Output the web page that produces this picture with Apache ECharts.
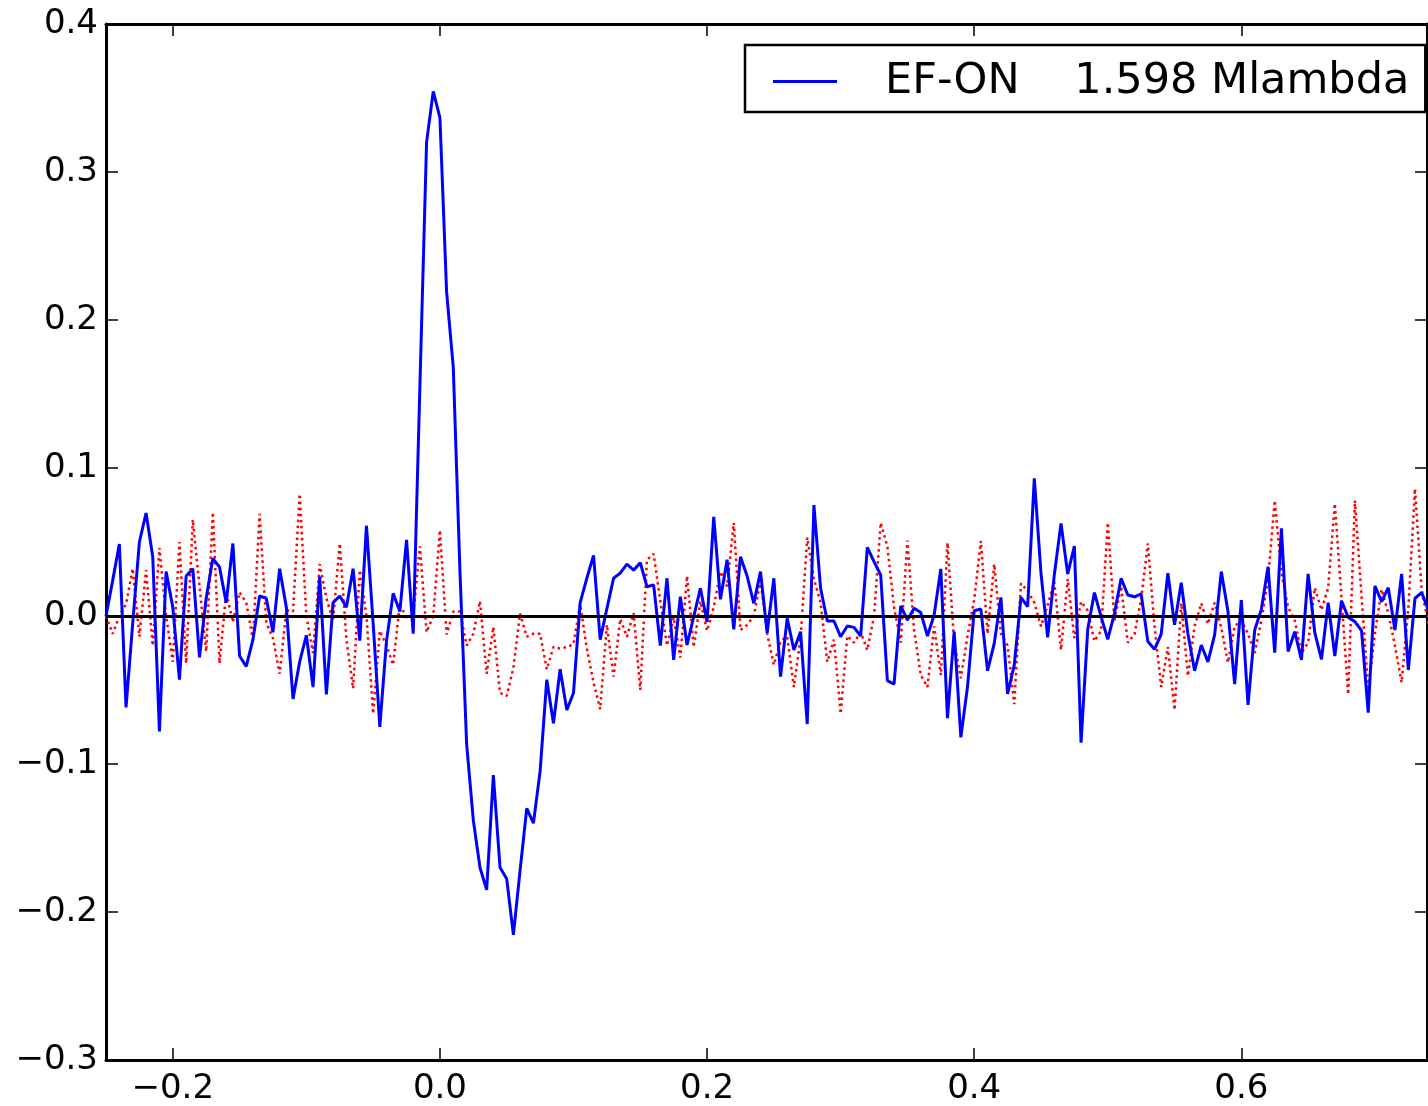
<!DOCTYPE html>
<html>
<head>
<meta charset="utf-8">
<title>EF-ON</title>
<script src="https://cdn.jsdelivr.net/npm/echarts@6/dist/echarts.min.js"></script>
<style>
  html, body { margin: 0; padding: 0; background: #fff; }
  #main { width: 1428px; height: 1106px; }
</style>
</head>
<body>
<div id="main"></div>
<script>
// sample positions: start and step on the x axis
var xStart = -0.25;
var xStep = 0.005;

// blue curve (EF-ON)
var blueValues = [
  0.000, 0.024, 0.0486, -0.0617, -0.005, 0.050, 0.0696, 0.040, -0.078, 0.030,
  0.006, -0.043, 0.027, 0.032, -0.028, 0.012, 0.039, 0.033, 0.009, 0.049,
  -0.027, -0.034, -0.016, 0.0135, 0.012, -0.011, 0.032, 0.006, -0.056, -0.031,
  -0.013, -0.048, 0.0266, -0.053, 0.009, 0.0135, 0.006, 0.032, -0.0167, 0.061,
  -0.005, -0.075, -0.017, 0.0153, 0.003, 0.0514, -0.012, 0.155, 0.320, 0.3545,
  0.3367, 0.219, 0.168, 0.030, -0.0865, -0.138, -0.170, -0.185, -0.1075, -0.170,
  -0.1776, -0.2155, -0.172, -0.130, -0.140, -0.105, -0.043, -0.0725, -0.036, -0.0635,
  -0.052, 0.009, 0.0255, 0.041, -0.016, 0.005, 0.0255, 0.029, 0.035, 0.031,
  0.036, 0.0198, 0.021, -0.020, 0.0255, -0.0297, 0.013, -0.0196, -0.0005, 0.0187,
  -0.004, 0.067, 0.0113, 0.038, -0.009, 0.040, 0.027, 0.0086, 0.030, -0.0113,
  0.0255, -0.041, -0.0016, -0.023, -0.0106, -0.073, 0.075, 0.0187, -0.0034, -0.0034,
  -0.014, -0.0068, -0.0077, -0.0135, 0.0464, 0.0367, 0.0277, -0.0437, -0.046, 0.0068,
  -0.0027, 0.0052, 0.0023, -0.0135, 0.0007, 0.0318, -0.069, -0.0106, -0.082, -0.0477,
  0.0036, 0.0047, -0.037, -0.0185, 0.0126, -0.0527, -0.033, 0.0126, 0.0063, 0.093,
  0.029, -0.0144, 0.028, 0.0626, 0.0284, 0.0473, -0.0856, -0.009, 0.0158, -0.0004,
  -0.0158, 0.0018, 0.0255, 0.0142, 0.013, 0.0149, -0.0173, -0.0225, -0.0122, 0.029,
  -0.006, 0.0225, -0.012, -0.037, -0.0196, -0.031, -0.0128, 0.030, 0.003, -0.046,
  0.0108, -0.060, -0.0095, 0.0045, 0.0333, -0.0248, 0.0593, -0.024, -0.0106, -0.0297,
  0.0284, -0.0113, -0.0293, 0.009, -0.027, 0.0103, -0.0009, -0.0038, -0.0099, -0.0653,
  0.0203, 0.0097, 0.0191, -0.0095, 0.0284, -0.0365, 0.012, 0.0158, 0.004
];

// red dotted curve
var redValues = [
  0.000, -0.012, 0.000, 0.008, 0.032, -0.014, 0.031, -0.020, 0.046, 0.000,
  -0.031, 0.050, -0.032, 0.065, 0.020, -0.024, 0.070, -0.032, 0.016, -0.004,
  0.016, 0.009, -0.016, 0.069, -0.0045, -0.015, -0.039, 0.004, 0.003, 0.0824,
  0.000, -0.025, 0.035, 0.012, -0.003, 0.049, -0.016, -0.049, 0.031, 0.000,
  -0.066, -0.010, -0.020, -0.033, 0.008, -0.001, 0.000, 0.047, -0.011, 0.000,
  0.058, -0.0125, 0.003, 0.003, -0.020, -0.012, 0.010, -0.039, -0.0075, -0.052,
  -0.054, -0.035, 0.0016, -0.014, -0.012, -0.012, -0.036, -0.021, -0.022, -0.021,
  -0.019, 0.008, -0.022, -0.045, -0.063, -0.006, -0.041, -0.002, -0.014, 0.002,
  -0.050, 0.038, 0.042, 0.010, -0.020, -0.001, -0.028, 0.027, -0.021, 0.010,
  -0.010, 0.006, 0.030, 0.020, 0.063, -0.0095, -0.006, 0.000, 0.024, -0.012,
  -0.033, -0.017, -0.014, -0.048, -0.015, 0.053, 0.025, 0.009, -0.031, -0.016,
  -0.066, -0.0135, -0.018, -0.011, -0.023, 0.000, 0.063, 0.047, 0.006, -0.018,
  0.051, -0.0095, -0.040, -0.048, -0.007, -0.040, 0.0495, -0.018, -0.042, -0.0135,
  0.011, 0.0507, -0.012, 0.035, -0.012, -0.020, -0.0595, 0.022, 0.017, 0.009,
  -0.007, 0.0074, 0.023, -0.023, 0.025, -0.015, 0.0097, 0.0036, -0.017, -0.010,
  0.063, -0.003, 0.020, -0.018, -0.0124, 0.0115, 0.049, -0.007, -0.048, -0.021,
  -0.0635, 0.0086, -0.0405, -0.007, 0.0086, -0.0054, 0.009, -0.008, -0.0315, -0.007,
  -0.003, -0.012, -0.025, -0.003, 0.025, 0.078, 0.029, 0.006, -0.003, -0.025,
  -0.018, 0.019, 0.004, 0.019, 0.076, 0.012, -0.053, 0.078, 0.0135, -0.050,
  -0.012, 0.018, 0.002, -0.020, -0.045, 0.005, 0.086, 0.0176, -0.005
];

var xTicks = [-0.2, 0.0, 0.2, 0.4, 0.6];
var legendName = 'EF-ON    1.598 Mlambda';

function pairs(values) {
  var out = [];
  for (var i = 0; i < values.length; i++) {
    out.push([+(xStart + i * xStep).toFixed(4), values[i]]);
  }
  return out;
}

// matplotlib style minus sign
function tickText(v) {
  var s = Math.abs(v) < 1e-9 ? '0.0' : v.toFixed(1);
  return s.replace('-', '\u2212');
}

var frame = { show: true, onZero: false, lineStyle: { color: '#000', width: 3 } };
var tickIn = { show: true, inside: true, length: 12, lineStyle: { color: '#000', width: 1.5 } };
var labelFont = { fontFamily: 'DejaVu Sans', fontSize: 34, color: '#000' };

var myChart = echarts.init(document.getElementById('main'), null, { renderer: 'canvas' });

var option = {
  backgroundColor: '#fff',
  animation: false,
  grid: { left: 106, right: 1, top: 24, bottom: 45 },
  legend: {
    data: [legendName],
    left: 745,
    top: 45,
    orient: 'horizontal',
    backgroundColor: '#fff',
    borderColor: '#000',
    borderWidth: 2.5,
    borderRadius: 0,
    padding: [11, 16, 5, 28],
    itemWidth: 64,
    itemHeight: 3,
    icon: 'rect',
    textStyle: {
      fontFamily: 'DejaVu Sans',
      fontSize: 43,
      color: '#000',
      lineHeight: 51,
      padding: [0, 0, 0, 43]
    }
  },
  xAxis: [
    {
      type: 'value',
      min: -0.25,
      max: 0.739,
      position: 'bottom',
      axisLine: frame,
      axisTick: Object.assign({ customValues: xTicks }, tickIn),
      splitLine: { show: false },
      axisLabel: Object.assign({
        customValues: xTicks,
        margin: 12,
        formatter: tickText
      }, labelFont)
    },
    {
      type: 'value',
      min: -0.25,
      max: 0.739,
      position: 'top',
      axisLine: frame,
      axisTick: Object.assign({ customValues: xTicks }, tickIn),
      splitLine: { show: false },
      axisLabel: { show: false }
    }
  ],
  yAxis: [
    {
      type: 'value',
      min: -0.3,
      max: 0.4,
      interval: 0.1,
      position: 'left',
      axisLine: frame,
      axisTick: tickIn,
      splitLine: { show: false },
      axisLabel: Object.assign({ margin: 8, formatter: tickText }, labelFont)
    },
    {
      type: 'value',
      min: -0.3,
      max: 0.4,
      interval: 0.1,
      position: 'right',
      axisLine: frame,
      axisTick: tickIn,
      splitLine: { show: false },
      axisLabel: { show: false }
    }
  ],
  series: [
    {
      name: 'red',
      type: 'line',
      data: pairs(redValues),
      showSymbol: false,
      lineStyle: { color: '#ff0000', width: 2.5, type: [2.5, 3.5], cap: 'butt' },
      z: 2,
      markLine: {
        silent: true,
        symbol: 'none',
        label: { show: false },
        lineStyle: { color: '#000', width: 3, type: 'solid' },
        data: [{ yAxis: 0 }]
      }
    },
    {
      name: legendName,
      type: 'line',
      data: pairs(blueValues),
      showSymbol: false,
      itemStyle: { color: '#0000ff' },
      lineStyle: { color: '#0000ff', width: 3 },
      z: 3
    }
  ]
};

myChart.setOption(option);
</script>
</body>
</html>
